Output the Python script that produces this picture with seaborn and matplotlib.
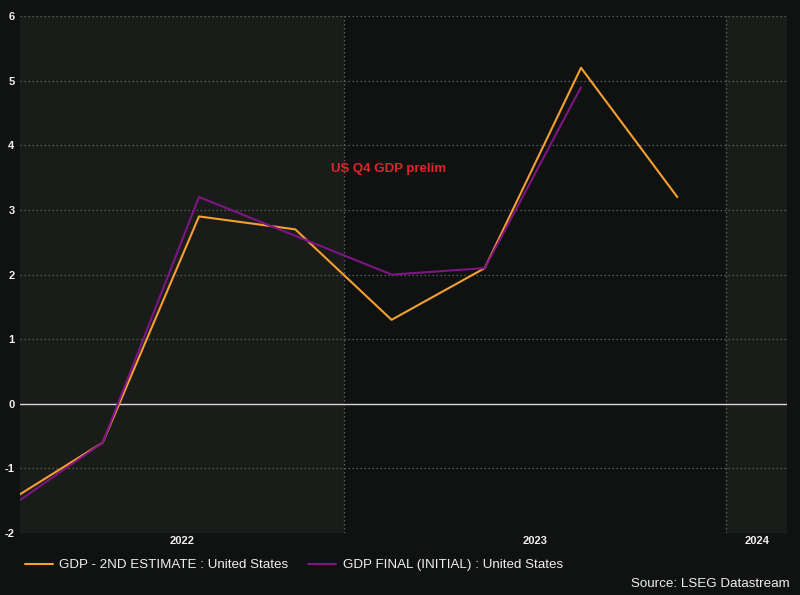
import matplotlib
matplotlib.use("Agg")
import matplotlib.pyplot as plt
import matplotlib.dates as mdates
import seaborn as sns
import pandas as pd
import numpy as np

# ---- data ----
quarter_dates = ["2022-02-15", "2022-05-15", "2022-08-15", "2022-11-15",
                 "2023-02-15", "2023-05-15", "2023-08-15", "2023-11-15"]
gdp_2nd_estimate = [-1.5, -0.6, 2.9, 2.7, 1.3, 2.1, 5.2, 3.2]
gdp_final_initial = [-1.6, -0.6, 3.2, 2.6, 2.0, 2.1, 4.9, np.nan]
series_names = ["GDP - 2ND ESTIMATE : United States", "GDP FINAL (INITIAL) : United States"]
year_labels = ["2022", "2023", "2024"]
y_ticks = [-2, -1, 0, 1, 2, 3, 4, 5, 6]
annotation = "US Q4 GDP prelim"
source = "Source: LSEG Datastream"

df = pd.DataFrame({
    "date": pd.to_datetime(quarter_dates * 2),
    "value": gdp_2nd_estimate + gdp_final_initial,
    "series": [series_names[0]] * len(quarter_dates) + [series_names[1]] * len(quarter_dates),
})

FIG_BG = "#0f1210"
DARK = "#0f1210"
LIGHT = "#1a1c1a"
ORANGE = "#f5a031"
PURPLE = "#7e1585"
TXT = "#f0f0f0"
GRID = "#5e5e5e"

sns.set_theme(style="dark")
plt.rcParams["font.family"] = ["Liberation Sans", "DejaVu Sans"]

fig = plt.figure(figsize=(8, 5.95), dpi=100, facecolor=FIG_BG)
ax = fig.add_axes([0.025, 0.104, 0.959, 0.869])
ax.set_facecolor(DARK)

xmin = pd.Timestamp("2022-02-25")
xmax = pd.Timestamp("2024-02-28")
x0, x1 = mdates.date2num(xmin), mdates.date2num(xmax)

# alternating year bands
years = [2022, 2023, 2024]
bounds = [mdates.date2num(pd.Timestamp(f"{y}-01-01")) for y in years] + [mdates.date2num(pd.Timestamp("2025-01-01"))]
for i, y in enumerate(years):
    if i % 2 == 0:
        ax.axvspan(bounds[i], bounds[i + 1], color=LIGHT, zorder=0, lw=0)

sns.lineplot(data=df, x="date", y="value", hue="series", palette=[ORANGE, PURPLE],
             hue_order=series_names, ax=ax, linewidth=1.5, legend=True, zorder=3)

ax.set_xlim(x0, x1)
ax.set_ylim(-2, 6)
ax.set_xlabel("")
ax.set_ylabel("")

# grid
for yt in y_ticks:
    if yt == 0:
        ax.axhline(0, color="#d8d8d8", lw=1.0, zorder=2)
    else:
        ax.axhline(yt, color=GRID, lw=0.9, ls=(0, (1.2, 2.0)), zorder=1)
for b in bounds[1:3]:
    ax.axvline(b, color=GRID, lw=0.9, ls=(0, (1.2, 2.0)), zorder=1)

ax.set_yticks(y_ticks)
ax.set_yticklabels([str(t) for t in y_ticks], color=TXT, fontsize=8, fontweight="bold")
ax.tick_params(axis="y", length=0, pad=4)

# year labels centered on visible portion
centers = []
for i in range(len(years)):
    a = max(bounds[i], x0)
    b = min(bounds[i + 1], x1)
    centers.append((a + b) / 2)
ax.set_xticks(centers)
ax.set_xticklabels(year_labels, color=TXT, fontsize=8, fontweight="bold")
ax.tick_params(axis="x", length=0, pad=2)

for s in ax.spines.values():
    s.set_visible(False)

ax.text(mdates.date2num(pd.Timestamp("2023-02-12")), 3.64, annotation, color="#e0252b",
        fontsize=9.5, fontweight="bold", ha="center", va="center", zorder=4)

handles, labels = ax.get_legend_handles_labels()
ax.get_legend().remove()
leg = fig.legend(handles, labels, loc="center left", bbox_to_anchor=(0.031, 0.0504),
                 ncol=2, frameon=False, fontsize=9.6, handlelength=2.1, handletextpad=0.5,
                 columnspacing=1.45, borderpad=0, borderaxespad=0)
for t in leg.get_texts():
    t.set_color(TXT)

fig.text(0.9875, 0.0185, source, color=TXT, fontsize=9.6, ha="right", va="center")

fig.savefig("out.png", dpi=100, facecolor=FIG_BG)
